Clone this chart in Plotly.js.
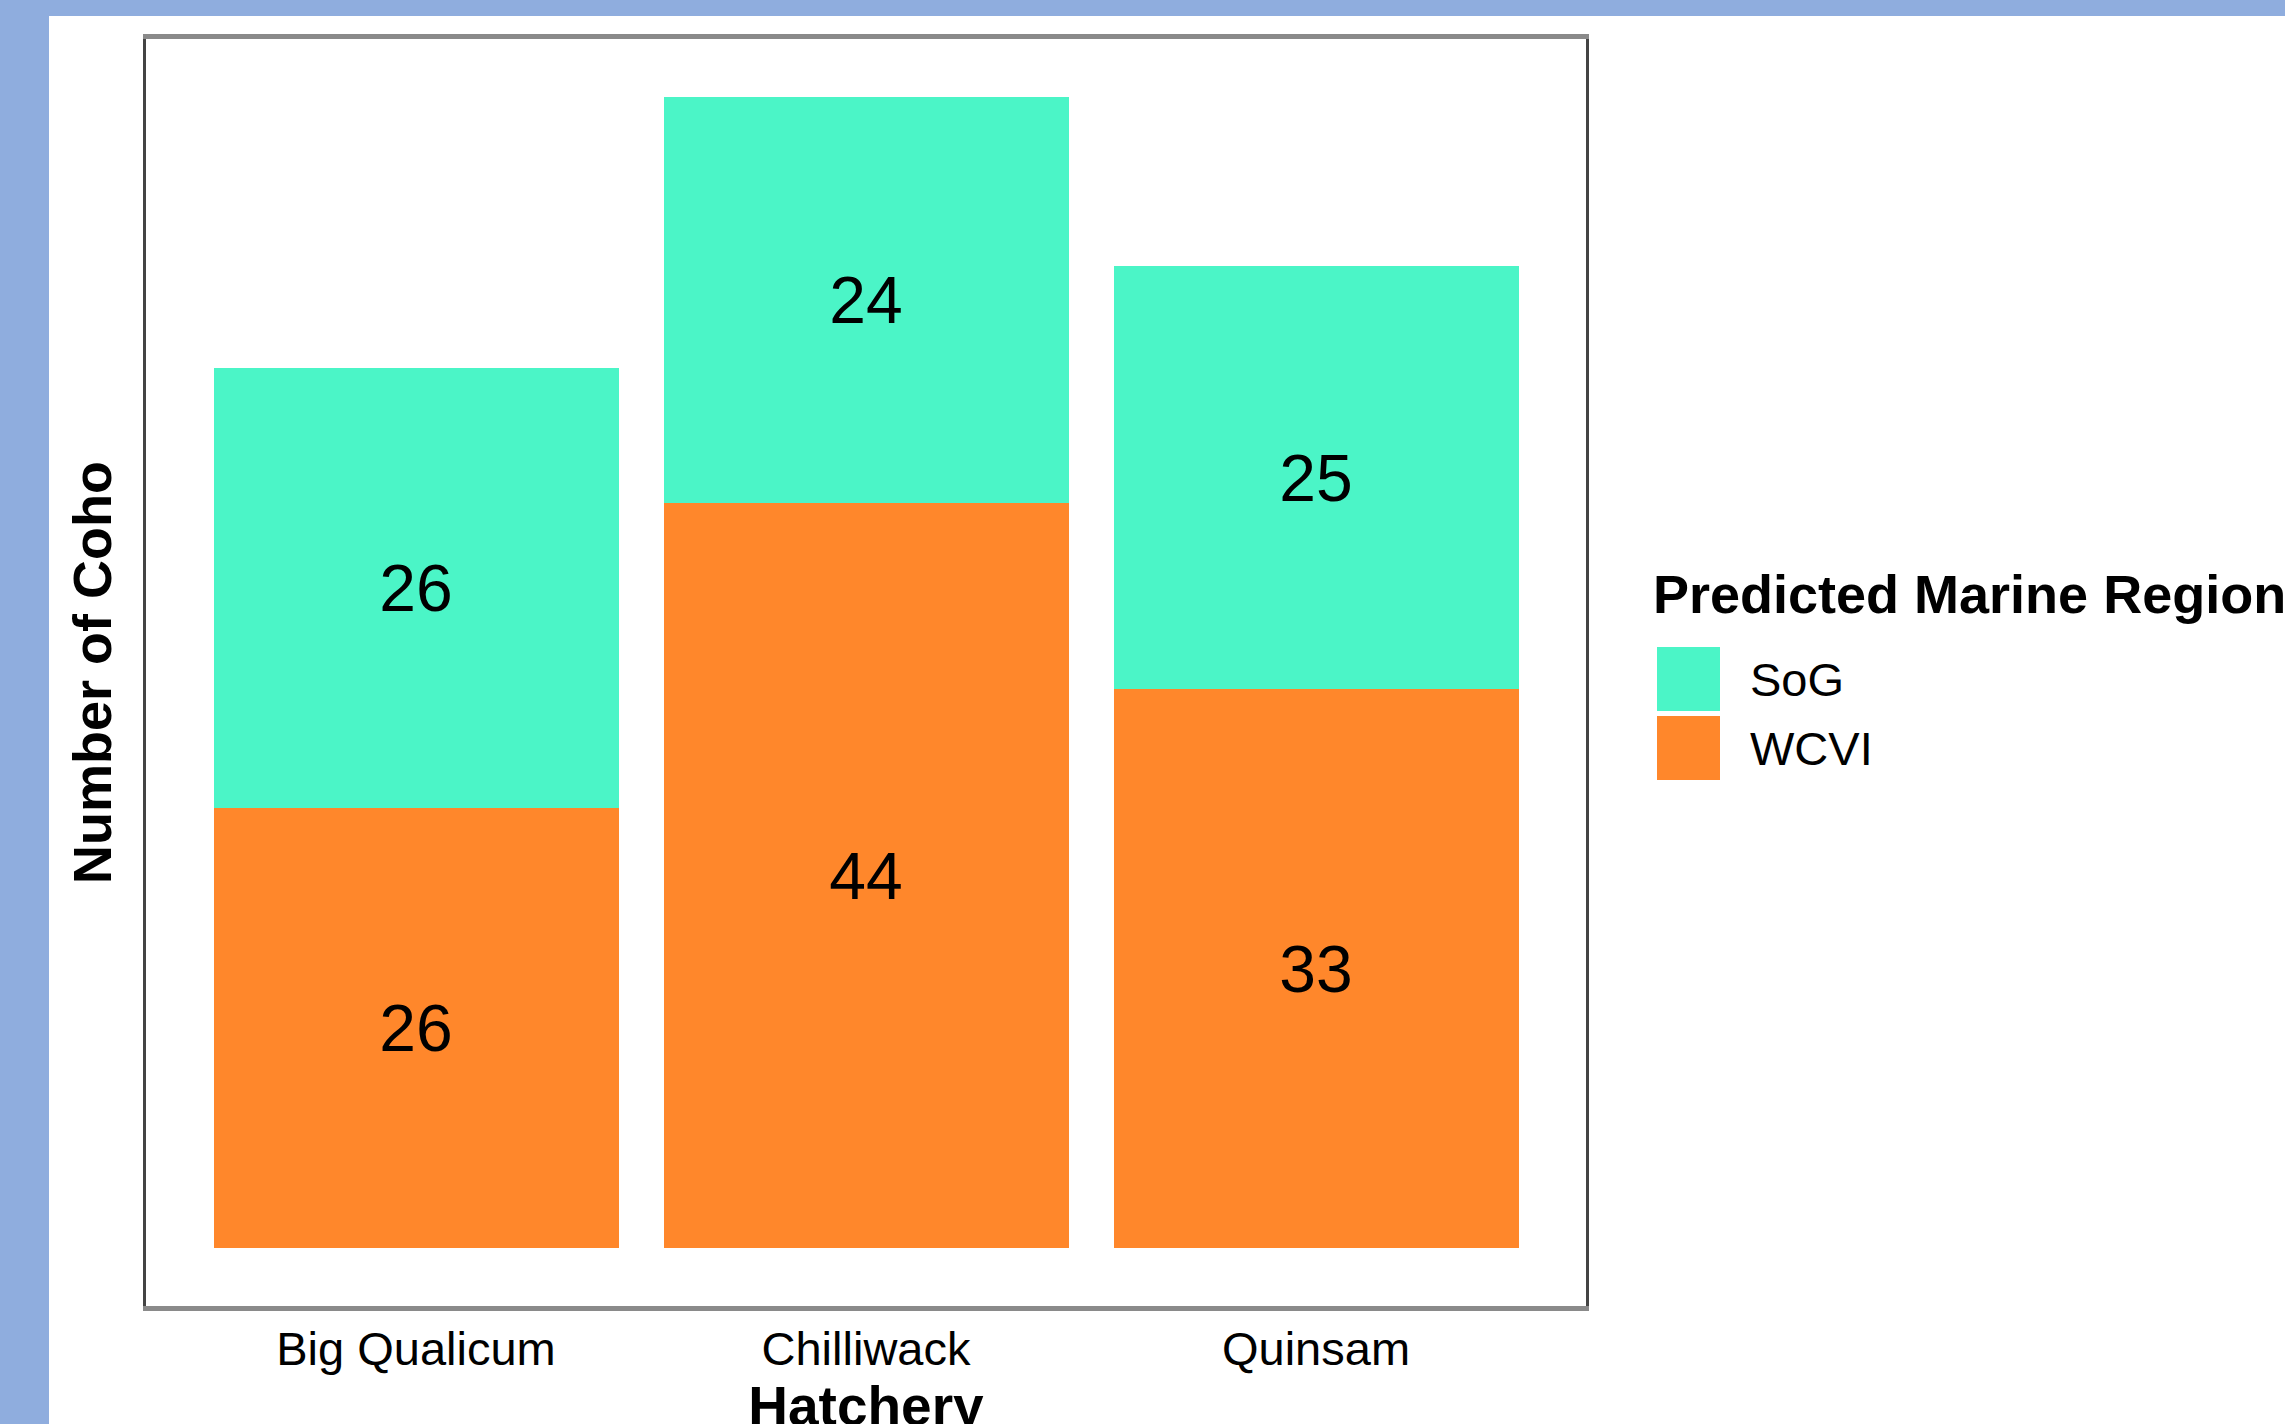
<!DOCTYPE html>
<html>
<head>
<meta charset="utf-8">
<script src="https://cdn.plot.ly/plotly-3.0.1.min.js"></script>
<style>
  html, body { margin: 0; padding: 0; background: #8FADDE; width: 2285px; height: 1424px; overflow: hidden; }
  #chart { position: absolute; left: 49px; top: 16px; width: 2236px; height: 1480px; background: #ffffff; }
</style>
</head>
<body>
<div id="chart"></div>
<script>
// Coho counts per hatchery, split by predicted marine region
const hatcheries = ["Big Qualicum", "Chilliwack", "Quinsam"];
const wcviCounts = [26, 44, 33];
const sogCounts = [26, 24, 25];
const regionNames = ["SoG", "WCVI"];
const regionColors = { SoG: "#4BF5C7", WCVI: "#FF872B" };

// The figure runs past the bottom of the window; the lower part is clipped
const W = 2236, H = 1480;
const M = { l: 97, r: 699, t: 23, b: 190 };
const PW = W - M.l - M.r, PH = H - M.t - M.b;
// pixel position inside the figure -> paper coordinates
const px = x => (x - M.l) / PW;
const py = y => (H - M.b - y) / PH;

const FONT = "Liberation Sans, Arial, Helvetica, sans-serif";

const traces = [
  {
    type: "bar", name: "WCVI", x: hatcheries, y: wcviCounts,
    text: wcviCounts.map(String), textposition: "inside", insidetextanchor: "middle",
    textangle: 0, constraintext: "none",
    textfont: { family: FONT, size: 66, color: "#000000" },
    marker: { color: regionColors.WCVI, line: { width: 0 } },
    hoverinfo: "skip"
  },
  {
    type: "bar", name: "SoG", x: hatcheries, y: sogCounts,
    text: sogCounts.map(String), textposition: "inside", insidetextanchor: "middle",
    textangle: 0, constraintext: "none",
    textfont: { family: FONT, size: 66, color: "#000000" },
    marker: { color: regionColors.SoG, line: { width: 0 } },
    hoverinfo: "skip"
  }
];

// Legend drawn as swatches + labels so the keys are full-size squares
const shapes = [];
const annotations = [
  {
    xref: "paper", yref: "paper", x: px(1602), y: py(578),
    xanchor: "left", yanchor: "middle", showarrow: false,
    text: "<b>Predicted Marine Region</b>",
    font: { family: FONT, size: 54, color: "#000000" }
  }
];
regionNames.forEach((name, i) => {
  const top = 631 + i * 69;
  shapes.push({
    type: "rect", xref: "paper", yref: "paper",
    x0: px(1608), x1: px(1671), y0: py(top), y1: py(top + 64),
    fillcolor: regionColors[name], line: { width: 0 }
  });
  annotations.push({
    xref: "paper", yref: "paper", x: px(1699), y: py(top + 32),
    xanchor: "left", yanchor: "middle", showarrow: false,
    text: name, font: { family: FONT, size: 47, color: "#000000" }
  });
});

const layout = {
  width: W, height: H,
  margin: M,
  paper_bgcolor: "#ffffff", plot_bgcolor: "#ffffff",
  font: { family: FONT, color: "#000000" },
  barmode: "stack", bargap: 0.1,
  showlegend: false,
  xaxis: {
    type: "category", range: [-0.6, 2.6], fixedrange: true,
    showgrid: false, zeroline: false,
    showline: true, mirror: true, linecolor: "#8a8a8a", linewidth: 5,
    ticks: "", ticklabelstandoff: -2,
    tickfont: { family: FONT, size: 47, color: "#000000" },
    title: { text: "<b>Hatchery</b>", font: { family: FONT, size: 55, color: "#000000" }, standoff: 12 }
  },
  yaxis: {
    range: [-3.4, 71.4], fixedrange: true,
    showgrid: false, zeroline: false, showticklabels: false, ticks: "",
    showline: true, mirror: true, linecolor: "#444444", linewidth: 3,
    title: { text: "<b>Number of Coho</b>", font: { family: FONT, size: 54, color: "#000000" }, standoff: 15 }
  },
  shapes: shapes,
  annotations: annotations
};

Plotly.newPlot("chart", traces, layout, { staticPlot: true, displayModeBar: false });
</script>
</body>
</html>
